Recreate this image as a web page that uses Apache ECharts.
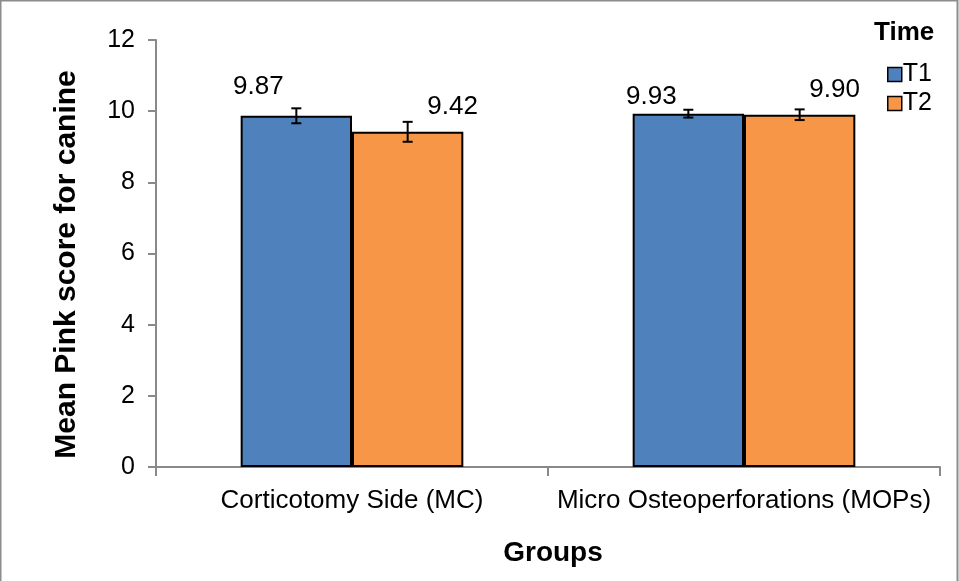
<!DOCTYPE html>
<html><head><meta charset="utf-8">
<script src="https://cdn.jsdelivr.net/npm/echarts@6/dist/echarts.min.js"></script>
<style>html,body{margin:0;padding:0;background:#fff}#c{width:959px;height:581px}</style>
</head><body><div id="c"></div>
<script>
const categories = ['Corticotomy Side (MC)', 'Micro Osteoperforations (MOPs)'];
const seriesNames = ['T1', 'T2'];
const t1Values = [9.87, 9.93];
const t2Values = [9.42, 9.90];
const t1Errors = [0.21, 0.11];
const t2Errors = [0.28, 0.15];
const yTicks = [0, 2, 4, 6, 8, 10, 12];

const colors = ['#4F81BD', '#F79646'];
const labelOffsets = [[[-38, -11], [-37, 1]], [[45, -7], [35, -7]]];
const barFrac = 0.284;

const chart = echarts.init(document.getElementById('c'));
const font = 'Liberation Sans, Arial, sans-serif';

function barSeries(idx, vals) {
  return {
    name: seriesNames[idx], type: 'bar', barWidth: (barFrac * 100) + '%', barGap: '0%',
    itemStyle: { color: colors[idx], borderColor: '#000', borderWidth: 2 },
    data: vals.map((v, i) => ({
      value: v,
      label: { show: true, position: 'top', distance: 5, offset: labelOffsets[idx][i],
        formatter: v.toFixed(2), color: '#000', fontSize: 26, fontFamily: font }
    })),
    z: 2
  };
}
function errSeries(idx, vals, errs) {
  return {
    type: 'custom', name: 'err' + idx, z: 5, silent: true,
    data: vals.map((v, i) => [i, v, errs[i]]),
    renderItem: function (params, api) {
      const band = api.size([1, 0])[0];
      const c = api.coord([api.value(0), api.value(1)]);
      const x = c[0] + (idx === 0 ? -0.5 : 0.5) * barFrac * band;
      const hi = api.coord([api.value(0), api.value(1) + api.value(2)])[1];
      const lo = api.coord([api.value(0), api.value(1) - api.value(2)])[1];
      const st = { stroke: '#000', lineWidth: 2 };
      return { type: 'group', children: [
        { type: 'line', shape: { x1: x, y1: hi, x2: x, y2: lo }, style: st },
        { type: 'line', shape: { x1: x - 5, y1: hi, x2: x + 5, y2: hi }, style: st },
        { type: 'line', shape: { x1: x - 5, y1: lo, x2: x + 5, y2: lo }, style: st }
      ]};
    }
  };
}

chart.setOption({
  animation: false,
  backgroundColor: '#fff',
  grid: { left: 156, right: 19, top: 40, bottom: 114, outerBoundsMode: 'none', containLabel: false },
  legend: {
    data: seriesNames, orient: 'vertical', left: 887, top: 62, itemGap: 4, padding: 0,
    itemWidth: 14, itemHeight: 14, icon: 'rect', itemStyle: { borderColor: '#000', borderWidth: 1.5 },
    textStyle: { fontSize: 25, fontFamily: font, color: '#000', padding: [0, 0, 0, -4] }
  },
  graphic: [
    { type: 'rect', shape: { x: 0.5, y: 0.5, width: 957, height: 590 }, style: { fill: 'none', stroke: '#8c8c8c', lineWidth: 2 }, silent: true },
    { type: 'text', left: 874, top: 20, style: { text: 'Time', font: 'bold 26px ' + font, fill: '#000' } }
  ],
  xAxis: {
    type: 'category', data: categories,
    name: 'Groups', nameLocation: 'middle', nameGap: 72,
    nameTextStyle: { fontSize: 28, fontWeight: 'bold', fontFamily: font, color: '#000', padding: [0, 0, 0, 10] },
    axisLine: { lineStyle: { color: '#898989', width: 2 } },
    axisTick: { show: true, length: 9, lineStyle: { color: '#898989', width: 2 } },
    axisLabel: { interval: 0, fontSize: 26, fontFamily: font, color: '#000', margin: 21 }
  },
  yAxis: {
    type: 'value', min: yTicks[0], max: yTicks[yTicks.length - 1], interval: 2,
    name: 'Mean Pink score for canine', nameLocation: 'middle', nameGap: 74,
    nameTextStyle: { fontSize: 30, fontWeight: 'bold', fontFamily: font, color: '#000', padding: [0, 22, 0, 0] },
    axisLine: { show: true, lineStyle: { color: '#898989', width: 2 } },
    axisTick: { show: true, length: 8, lineStyle: { color: '#898989', width: 2 } },
    splitLine: { show: false },
    axisLabel: { fontSize: 25, fontFamily: font, color: '#000', margin: 21 }
  },
  series: [
    barSeries(0, t1Values), barSeries(1, t2Values),
    errSeries(0, t1Values, t1Errors), errSeries(1, t2Values, t2Errors)
  ]
});
</script></body></html>
